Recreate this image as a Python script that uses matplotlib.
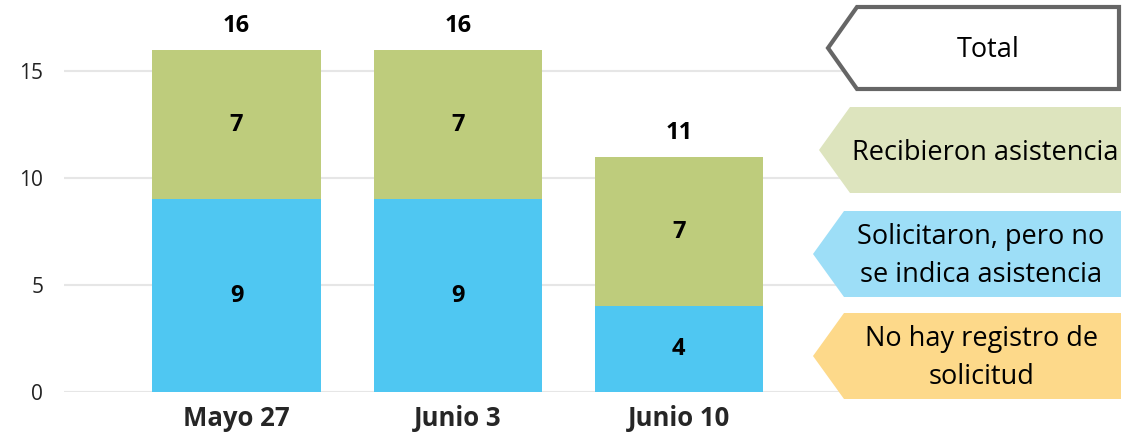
import matplotlib
matplotlib.use("Agg")
import matplotlib.pyplot as plt
from matplotlib.patches import Polygon

plt.rcParams['font.family'] = ['Open Sans', 'DejaVu Sans']

categories = ["Mayo 27", "Junio 3", "Junio 10"]
solicitaron = [9, 9, 4]
recibieron = [7, 7, 7]
yticks = [0, 5, 10, 15]

legend_labels = ["Total", "Recibieron asistencia",
                 "Solicitaron, pero no\nse indica asistencia",
                 "No hay registro de\nsolicitud"]

c_blue = "#4FC7F2"
c_green = "#BECC7C"

W, H = 1131, 434
fig = plt.figure(figsize=(W / 100, H / 100), dpi=100)
ax = fig.add_axes([64 / W, 42 / H, (858 - 64) / W, 392 / H])

x = list(range(len(categories)))
totals = [a + b for a, b in zip(solicitaron, recibieron)]
ax.bar(x, solicitaron, width=0.76, color=c_blue, zorder=2)
ax.bar(x, recibieron, width=0.76, bottom=solicitaron, color=c_green, zorder=2)

for i in x:
    ax.text(i, solicitaron[i] / 2, str(solicitaron[i]), ha='center', va='center',
            fontsize=17, fontweight='bold', color='black')
    ax.text(i, solicitaron[i] + recibieron[i] / 2, str(recibieron[i]), ha='center',
            va='center', fontsize=17, fontweight='bold', color='black')
    ax.text(i, totals[i] + 1.1, str(totals[i]), ha='center', va='center',
            fontsize=17, fontweight='bold', color='black')

ax.set_xlim(-0.78, 2.81)
ax.set_ylim(0, 392 / 21.4)
ax.set_yticks(yticks)
ax.set_xticks(x)
ax.set_xticklabels(categories, fontsize=18.5, fontweight='bold', color='#262626')
ax.tick_params(axis='y', labelsize=15, colors='#222222', length=0, pad=15)
ax.tick_params(axis='x', length=0, pad=9)
ax.grid(axis='y', color='#E6E6E6', linewidth=1.5, zorder=0)
for s in ax.spines.values():
    s.set_visible(False)

# legend overlay in pixel coordinates
lx = fig.add_axes([0, 0, 1, 1])
lx.set_xlim(0, W)
lx.set_ylim(H, 0)
lx.axis('off')
lx.patch.set_alpha(0)

def arrow_box(tip, notch, right, top, bottom, **kw):
    mid = (top + bottom) / 2
    return Polygon([(tip, mid), (notch, top), (right, top), (right, bottom), (notch, bottom)],
                   closed=True, **kw)

lx.add_patch(arrow_box(828, 857, 1119, 7, 89, facecolor='white', edgecolor='#666666',
                       linewidth=3, joinstyle='miter'))
lx.add_patch(arrow_box(819, 850, 1121, 107, 193, facecolor='#DDE4BE', edgecolor='none'))
lx.add_patch(arrow_box(813, 844, 1121, 211, 297, facecolor='#9DDEF7', edgecolor='none'))
lx.add_patch(arrow_box(813, 844, 1121, 313, 399, facecolor='#FDD98A', edgecolor='none'))

fs = 19.5
lx.text(988, 50, legend_labels[0], ha='center', va='center', fontsize=fs, color='black')
lx.text(985, 153, legend_labels[1], ha='center', va='center', fontsize=fs, color='black')
lx.text(981, 256, legend_labels[2], ha='center', va='center', fontsize=fs, color='black',
        linespacing=1.45)
lx.text(982, 358, legend_labels[3], ha='center', va='center', fontsize=fs, color='black',
        linespacing=1.45)

fig.savefig("out.png", dpi=100)
